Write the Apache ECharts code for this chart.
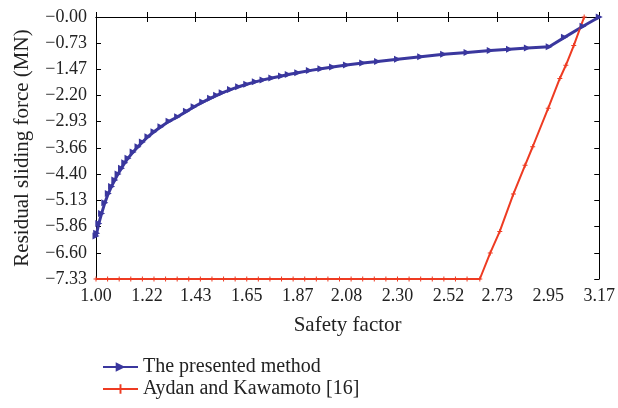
<!DOCTYPE html>
<html>
<head>
<meta charset="utf-8">
<script src="https://cdn.jsdelivr.net/npm/echarts@6/dist/echarts.min.js"></script>
<style>
  html, body { margin: 0; padding: 0; background: #fff; }
  #main { width: 618px; height: 408px; }
</style>
</head>
<body>
<div id="main"></div>
<script>
// tick labels
const xTicks = [1.00, 1.22, 1.43, 1.65, 1.87, 2.08, 2.30, 2.52, 2.73, 2.95, 3.17];
const yTicks = [0, -0.73, -1.47, -2.20, -2.93, -3.66, -4.40, -5.13, -5.86, -6.60, -7.33];

// The presented method
const presentedSF = [1.00, 1.003, 1.012, 1.024, 1.038, 1.053, 1.067, 1.081, 1.095, 1.110, 1.124, 1.138, 1.16, 1.181,
    1.20, 1.224, 1.25, 1.28, 1.315, 1.352, 1.39, 1.423, 1.46, 1.494, 1.52, 1.544, 1.58, 1.615, 1.65, 1.687,
    1.72, 1.758, 1.80, 1.829, 1.87, 1.92, 1.97, 2.02, 2.08, 2.15, 2.214, 2.30, 2.40, 2.499, 2.60, 2.70,
    2.783, 2.86, 2.954, 3.02, 3.10, 3.17];
const presentedForce = [-6.13, -6.05, -5.78, -5.50, -5.20, -4.94, -4.74, -4.56, -4.39, -4.23, -4.08, -3.95, -3.78, -3.63,
    -3.50, -3.35, -3.21, -3.07, -2.92, -2.79, -2.64, -2.51, -2.38, -2.27, -2.19, -2.12, -2.03, -1.95, -1.88, -1.815,
    -1.76, -1.705, -1.65, -1.61, -1.56, -1.50, -1.45, -1.40, -1.345, -1.29, -1.245, -1.18, -1.11, -1.045, -0.99, -0.94,
    -0.905, -0.87, -0.83, -0.57, -0.26, 0];

// Aydan and Kawamoto [16]
const aydanSF = [1.00, 1.05, 1.10, 1.15, 1.20, 1.25, 1.30, 1.35, 1.40, 1.45, 1.50, 1.55, 1.60, 1.65, 1.70,
    1.75, 1.80, 1.85, 1.90, 1.95, 2.00, 2.05, 2.10, 2.15, 2.20, 2.25, 2.30, 2.35, 2.40, 2.45, 2.50, 2.55,
    2.60, 2.655, 2.70, 2.741, 2.80, 2.85, 2.883, 2.95, 3.00, 3.026, 3.06, 3.105];
const aydanForce = [-7.33, -7.33, -7.33, -7.33, -7.33, -7.33, -7.33, -7.33, -7.33, -7.33, -7.33, -7.33, -7.33, -7.33, -7.33,
    -7.33, -7.33, -7.33, -7.33, -7.33, -7.33, -7.33, -7.33, -7.33, -7.33, -7.33, -7.33, -7.33, -7.33, -7.33, -7.33, -7.33,
    -7.33, -7.33, -6.60, -6.00, -4.95, -4.15, -3.63, -2.55, -1.72, -1.35, -0.80, 0];

const serif = 'Liberation Serif';
const blue = '#3a379e';
const red = '#ee3b22';
const plus = 'path://M2,0h1v2h2v1h-2v2h-1v-2h-2v-1h2z';

function pairs(xs, ys) {
    return xs.map((x, i) => [x, ys[i]]);
}

const xLabel = v => v.toFixed(2);
const yLabel = v => '\u2212' + Math.abs(v).toFixed(2);

const axisLine = { show: true, lineStyle: { color: '#000', width: 1 } };

let myChart = echarts.init(document.getElementById('main'));
let option = {
    animation: false,
    grid: { left: 96, right: 15, top: 17, bottom: 129, containLabel: false },
    legend: {
        orient: 'vertical',
        left: 97,
        top: 352,
        itemWidth: 35,
        itemHeight: 12,
        itemGap: 2,
        textStyle: { fontFamily: serif, fontSize: 20, color: '#222' },
        data: ['The presented method', 'Aydan and Kawamoto [16]']
    },
    xAxis: [
        {
            type: 'value',
            min: 1.00,
            max: 3.17,
            name: 'Safety factor',
            nameLocation: 'middle',
            nameGap: 36,
            nameTextStyle: { fontFamily: serif, fontSize: 21, color: '#222' },
            axisLine: axisLine,
            axisTick: { inside: true, length: 5, customValues: xTicks, lineStyle: { color: '#000' } },
            axisLabel: { customValues: xTicks, formatter: xLabel, margin: 8,
                fontFamily: serif, fontSize: 18, color: '#222' },
            splitLine: { show: false }
        },
        {
            type: 'value',
            position: 'top',
            min: 1.00,
            max: 3.17,
            axisLine: axisLine,
            axisTick: { inside: true, length: 5, customValues: xTicks, lineStyle: { color: '#000' } },
            axisLabel: { show: false },
            splitLine: { show: false }
        }
    ],
    yAxis: [
        {
            type: 'value',
            min: -7.33,
            max: 0,
            name: 'Residual sliding force (MN)',
            nameLocation: 'middle',
            nameGap: 63,
            nameTextStyle: { fontFamily: serif, fontSize: 21, color: '#222' },
            axisLine: axisLine,
            axisTick: { inside: true, length: 5, customValues: yTicks, lineStyle: { color: '#000' } },
            axisLabel: { customValues: yTicks, formatter: yLabel, margin: 9,
                fontFamily: serif, fontSize: 18, color: '#222' },
            splitLine: { show: false }
        },
        {
            type: 'value',
            position: 'right',
            min: -7.33,
            max: 0,
            axisLine: axisLine,
            axisTick: { inside: true, length: 5, customValues: yTicks, lineStyle: { color: '#000' } },
            axisLabel: { show: false },
            splitLine: { show: false }
        }
    ],
    series: [
        {
            name: 'The presented method',
            type: 'line',
            data: pairs(presentedSF, presentedForce),
            symbol: 'triangle',
            symbolRotate: -90,
            symbolSize: 7,
            showAllSymbol: true,
            clip: false,
            lineStyle: { color: blue, width: 3 },
            itemStyle: { color: blue }
        },
        {
            name: 'Aydan and Kawamoto [16]',
            type: 'line',
            data: pairs(aydanSF, aydanForce),
            symbol: plus,
            symbolSize: 5,
            showAllSymbol: true,
            clip: false,
            lineStyle: { color: red, width: 2 },
            itemStyle: { color: red }
        }
    ]
};
myChart.setOption(option);
</script>
</body>
</html>
